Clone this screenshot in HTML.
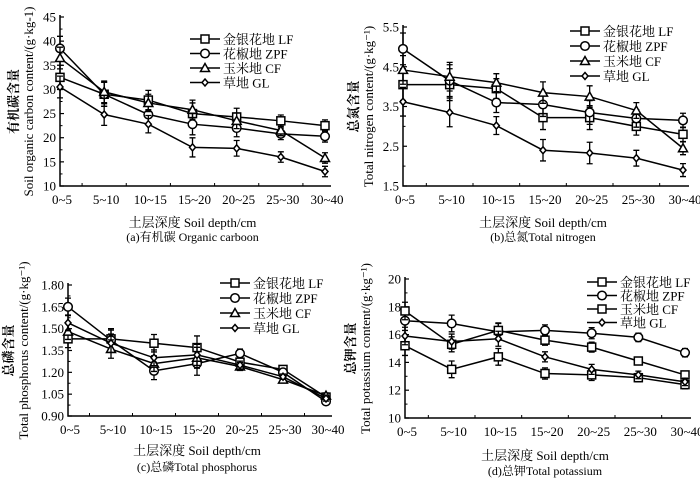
<!DOCTYPE html>
<html><head><meta charset="utf-8">
<style>
html,body{margin:0;padding:0;background:#fff;}
svg{display:block;font-family:"Liberation Serif","Noto Serif CJK SC",serif;}
</style></head>
<body>
<svg id="chart" width="700" height="483" viewBox="0 0 700 483" xmlns="http://www.w3.org/2000/svg"></svg>
<script>
const categories = ["0~5","5~10","10~15","15~20","20~25","25~30","30~40"];
const seriesNames = ["金银花地 LF","花椒地 ZPF","玉米地 CF","草地 GL"];
// panel a: organic carbon
const socLF  = [32.5, 29.0, 27.8, 25.0, 24.3, 23.5, 22.5];
const socZPF = [38.5, 29.0, 24.8, 22.8, 22.0, 20.8, 20.3];
const socCF  = [36.5, 29.5, 27.2, 25.8, 23.5, 21.5, 15.8];
const socGL  = [30.5, 24.8, 22.8, 18.0, 17.8, 16.0, 13.0];
const socErr = [2.5, 2.5, 2.0, 2.2, 1.8, 1.2, 1.2];
const socTicks = [10,15,20,25,30,35,40,45];
// panel b: total nitrogen
const tnLF  = [4.05, 4.05, 3.95, 3.22, 3.22, 3.00, 2.80];
const tnZPF = [4.95, 4.15, 3.60, 3.55, 3.35, 3.20, 3.15];
const tnCF  = [4.42, 4.25, 4.10, 3.85, 3.75, 3.40, 2.45];
const tnGL  = [3.62, 3.35, 3.02, 2.40, 2.33, 2.20, 1.90];
const tnErr = [0.4, 0.4, 0.25, 0.3, 0.3, 0.22, 0.18];
const tnTicks = [1.5,2.5,3.5,4.5,5.5];
// panel c: total phosphorus
const tpLF  = [1.43, 1.43, 1.40, 1.37, 1.27, 1.22, 1.03];
const tpZPF = [1.65, 1.42, 1.21, 1.26, 1.33, 1.20, 1.00];
const tpCF  = [1.48, 1.36, 1.26, 1.30, 1.24, 1.15, 1.04];
const tpGL  = [1.54, 1.40, 1.30, 1.32, 1.25, 1.17, 1.02];
const tpErr = [0.06, 0.07, 0.06, 0.08, 0.03, 0.02, 0.02];
const tpTicks = [0.90,1.05,1.20,1.35,1.50,1.65,1.80];
// panel d: total potassium
const tkLF  = [15.2, 13.5, 14.4, 13.2, 13.1, 12.9, 12.4];
const tkZPF = [17.0, 16.8, 16.2, 16.3, 16.1, 15.8, 14.7];
const tkCF  = [17.7, 15.3, 16.3, 15.6, 15.1, 14.1, 13.1];
const tkGL  = [15.9, 15.5, 15.7, 14.4, 13.5, 13.1, 12.6];
const tkErr = [0.7, 0.6, 0.6, 0.4, 0.4, 0.3, 0.3];
const tkTicks = [10,12,14,16,18,20];

const NS="http://www.w3.org/2000/svg";
const svg=document.getElementById('chart');
function mk(tag,attrs,parent,text){const e=document.createElementNS(NS,tag);for(const k in attrs)e.setAttribute(k,attrs[k]);if(text!==undefined)e.textContent=text;(parent||svg).appendChild(e);return e;}

function marker(g,kind,x,y){
  if(kind==='square'){const m=mk('rect',{x:x-4,y:y-4,width:8,height:8,fill:'#fff',stroke:'#000','stroke-width':1.5},g);}
  else if(kind==='circle'){const m=mk('circle',{cx:x,cy:y,r:4.3,fill:'#fff',stroke:'#000','stroke-width':1.5},g);}
  else if(kind==='triangle'){const m=mk('polygon',{points:`${x},${y-4.5} ${x-4.5},${y+3.5} ${x+4.5},${y+3.5}`,fill:'#fff',stroke:'#000','stroke-width':1.5},g);}
  else {const m=mk('polygon',{points:`${x},${y-3.5} ${x+3},${y} ${x},${y+3.5} ${x-3},${y}`,fill:'#fff',stroke:'#000','stroke-width':1.5},g);}
}

function panel(o){
  const g=mk('g',{});
  
  
  const ymin=o.ticks[0], ymax=o.ticks[o.ticks.length-1];
  const ys=v=>o.yBot-(v-ymin)/(ymax-ymin)*(o.yBot-o.yTop);
  const xs=i=>o.x0+i*(o.x1-o.x0)/(categories.length-1);
  const ax=mk('path',{d:`M${o.x0},${o.yTop-2} L${o.x0},${o.yBot} L${o.x1+6},${o.yBot}`,stroke:'#000','stroke-width':1.5,fill:'none'},g);
  
  
  o.ticks.forEach((t,i)=>{
    const y=ys(t);
    mk('line',{x1:o.x0,x2:o.x0+4,y1:y,y2:y,stroke:'#000','stroke-width':1.2},g);
    if(i<o.ticks.length-1){const ym=ys((t+o.ticks[i+1])/2);mk('line',{x1:o.x0,x2:o.x0+2.5,y1:ym,y2:ym,stroke:'#000','stroke-width':1},g);}
    const tl=mk('text',{x:o.x0-4,y:y+4.5,'text-anchor':'end','font-size':13},g,o.fmt(t));
    
    
  });
  categories.forEach((c,i)=>{
    const x=xs(i);
    if(i>0){const xm=(xs(i)+xs(i-1))/2;mk('line',{x1:xm,x2:xm,y1:o.yBot,y2:o.yBot-3,stroke:'#000','stroke-width':1},g);}
    const tl=mk('text',{x:x+2,y:o.yBot+18,'text-anchor':'middle','font-size':13},g,c);
    
    
  });
  const kinds=o.kinds;
  o.series.forEach((s,si)=>{
    const sg=mk('g',{},g);
    
    
    const pts=s.map((v,i)=>`${xs(i)},${ys(v)}`).join(' ');
    mk('polyline',{points:pts,fill:'none',stroke:'#000','stroke-width':1.5},sg);
    s.forEach((v,i)=>{
      const e=o.err[i]*(si===0||si===1?1:0.9);
      const x=xs(i),y1=ys(v+e),y2=ys(v-e);
      mk('path',{d:`M${x},${y1} L${x},${y2} M${x-3},${y1} L${x+3},${y1} M${x-3},${y2} L${x+3},${y2}`,stroke:'#000','stroke-width':1.3},sg);
    });
    s.forEach((v,i)=>marker(sg,kinds[si],xs(i),ys(v)));
  });
  const lg=mk('g',{},g);
  
  
  seriesNames.forEach((n,i)=>{
    const y=o.legY+i*o.legDy;
    const eg=mk('g',{},lg);
    
    
    mk('line',{x1:o.legX,x2:o.legX+30,y1:y,y2:y,stroke:'#000','stroke-width':1.5},eg);
    marker(eg,kinds[i],o.legX+15,y);
    mk('text',{x:o.legX+33,y:y+5,'font-size':13},eg,n);
  });
  const yt=mk('text',{transform:`translate(${o.yTitleX},${(o.yTop+o.yBot)/2}) rotate(-90)`,'text-anchor':'middle','font-size':13},g,o.yTitle);
  
  
  const yc=mk('text',{transform:`translate(${o.yTitleX-15},${(o.yTop+o.yBot)/2}) rotate(-90)`,'text-anchor':'middle','font-size':13,'font-weight':'bold'},g,o.yCn);
  
  
  const xt=mk('text',{x:(o.x0+o.x1)/2,y:o.xTitleY,'text-anchor':'middle','font-size':13},g,'土层深度 Soil depth/cm');
  
  
  const cap=mk('text',{x:(o.x0+o.x1)/2,y:o.capY,'text-anchor':'middle','font-size':12},g,o.caption);
  
  
}

panel({name:'panel-a-organic-carbon',x0:60,x1:325,yTop:17,yBot:186,ticks:socTicks,fmt:v=>String(v),
  series:[socLF,socZPF,socCF,socGL],err:socErr,kinds:['square','circle','triangle','diamond'],
  legX:190,legY:39,legDy:14.5,yTitle:'Soil organic carbon content/(g·kg-1)',yCn:'有机碳含量',yTitleX:33,
  xTitleY:227,capY:241,caption:'(a)有机碳 Organic carboon'});
panel({name:'panel-b-total-nitrogen',x0:403,x1:683,yTop:27,yBot:186,ticks:tnTicks,fmt:v=>v.toFixed(1),
  series:[tnLF,tnZPF,tnCF,tnGL],err:tnErr,kinds:['square','circle','triangle','diamond'],
  legX:570,legY:31,legDy:15,yTitle:'Total nitrogen content/(g·kg⁻¹)',yCn:'总氮含量',yTitleX:373,
  xTitleY:227,capY:241,caption:'(b)总氮Total nitrogen'});
panel({name:'panel-c-total-phosphorus',x0:68,x1:326,yTop:285,yBot:416,ticks:tpTicks,fmt:v=>v.toFixed(2),
  series:[tpLF,tpZPF,tpCF,tpGL],err:tpErr,kinds:['square','circle','triangle','diamond'],
  legX:220,legY:283,legDy:15,yTitle:'Total phosphorus content/(g·kg⁻¹)',yCn:'总磷含量',yTitleX:28,
  xTitleY:455,capY:471,caption:'(c)总磷Total phosphorus'});
panel({name:'panel-d-total-potassium',x0:405,x1:685,yTop:279,yBot:418,ticks:tkTicks,fmt:v=>String(v),
  series:[tkLF,tkZPF,tkCF,tkGL],err:tkErr,kinds:['square','circle','square','diamond'],
  legX:587,legY:282,legDy:13.5,yTitle:'Total potassium content/(g·kg⁻¹)',yCn:'总钾含量',yTitleX:370,
  xTitleY:460,capY:475,caption:'(d)总钾Total potassium'});
</script>
</body></html>
